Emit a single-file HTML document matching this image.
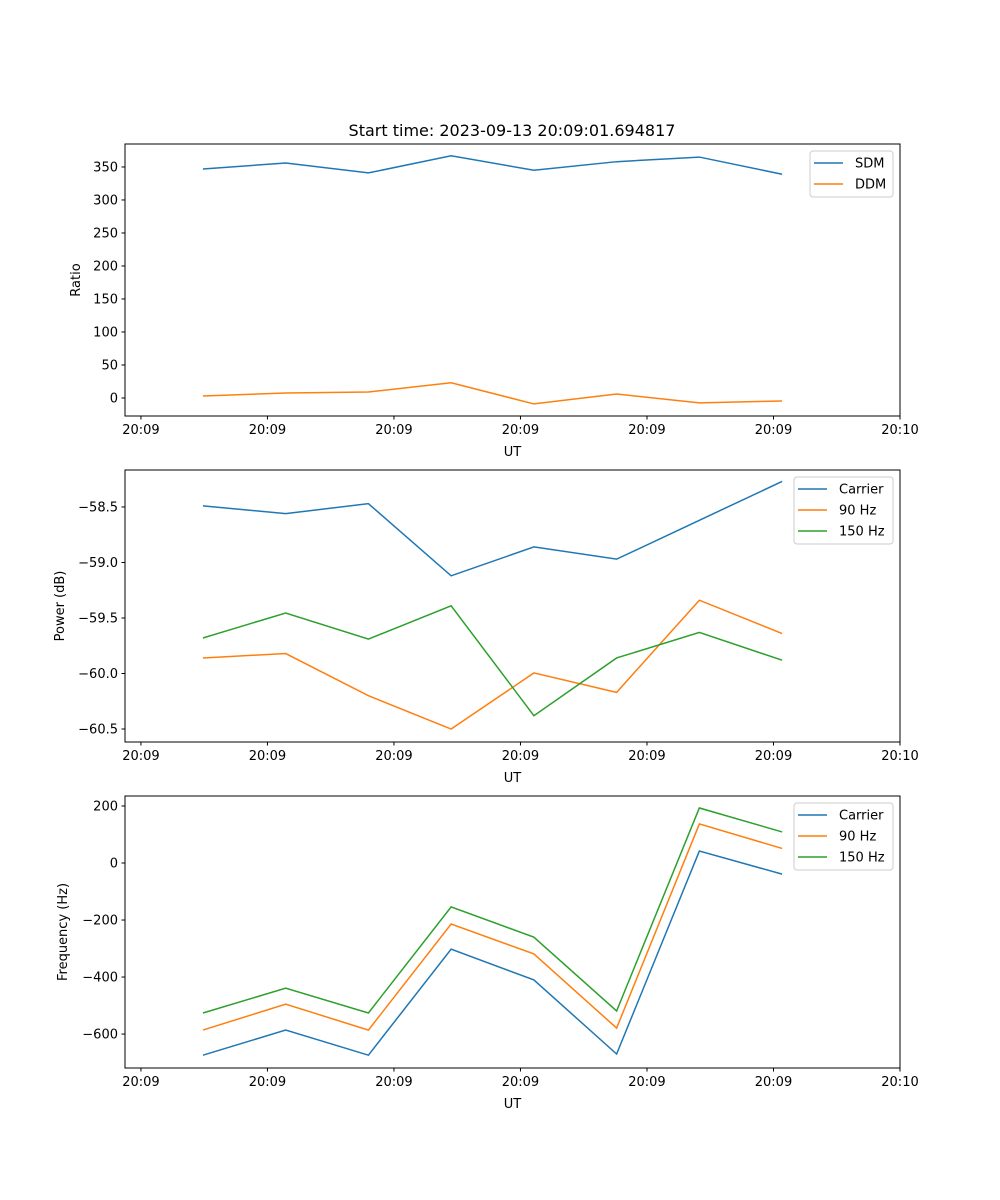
<!DOCTYPE html>
<html><head><meta charset="utf-8"><style>
body{margin:0;background:#fff}
svg{display:block;font-family:"DejaVu Sans","Liberation Sans",sans-serif}
</style></head><body>
<svg id="fig" width="1000" height="1200" xmlns="http://www.w3.org/2000/svg">
<rect width="1000" height="1200" fill="#fff"/>
<text x="512" y="136" font-size="16" text-anchor="middle">Start time: 2023-09-13 20:09:01.694817</text>
</svg>
<script>
// seconds after 20:09:00
const times = [4.9, 11.44, 17.98, 24.52, 31.06, 37.6, 44.14, 50.68];
const xTicks = [0, 10, 20, 30, 40, 50, 60];
const xTickLabels = ["20:09","20:09","20:09","20:09","20:09","20:09","20:10"];
const sdm = [347, 356, 341, 367, 345, 358, 365, 339];
const ddm = [3, 7.5, 9, 23, -9, 6, -7.5, -4.5];
const powCarrier = [-58.49, -58.56, -58.47, -59.12, -58.86, -58.97, -58.62, -58.27];
const pow90 = [-59.86, -59.82, -60.20, -60.50, -59.995, -60.17, -59.34, -59.64];
const pow150 = [-59.68, -59.455, -59.69, -59.39, -60.38, -59.86, -59.63, -59.88];
const freqCarrier = [-674, -586, -674, -302, -410, -670, 42, -39];
const freq90 = [-586, -495, -586, -214, -319, -579, 137, 51];
const freq150 = [-526, -439, -526, -154, -260, -519, 193, 109];
const ratioTicks = [0, 50, 100, 150, 200, 250, 300, 350];
const powTicks = [-60.5, -60.0, -59.5, -59.0, -58.5];
const powTickLabels = ["\u221260.5","\u221260.0","\u221259.5","\u221259.0","\u221258.5"];
const freqTicks = [-600, -400, -200, 0, 200];
const freqTickLabels = ["\u2212600","\u2212400","\u2212200","0","200"];

const NS = "http://www.w3.org/2000/svg";
const svg = document.getElementById('fig');
function mk(tag, attrs, parent){const e=document.createElementNS(NS,tag);for(const k in attrs)e.setAttribute(k,attrs[k]);(parent||svg).appendChild(e);return e;}
const L=125,R=900,xmin=-1.26,xmax=60;
const xs=v=>L+(v-xmin)/(xmax-xmin)*(R-L);
const C={blue:"#1f77b4",orange:"#ff7f0e",green:"#2ca02c"};

function panel(name,top,bot,ymin,ymax,yticks,ylabels,ytitle,series,legend){
  const g=mk('g',{});
  
  
  const ys=v=>bot-(v-ymin)/(ymax-ymin)*(bot-top);
  series.forEach(s=>{
    const p=mk('polyline',{points:times.map((t,i)=>xs(t).toFixed(2)+','+ys(s.v[i]).toFixed(2)).join(' '),fill:'none',stroke:s.c,'stroke-width':1.5},g);
    
    
  });
  const fr=mk('rect',{x:L,y:top,width:R-L,height:bot-top,fill:'none',stroke:'#000','stroke-width':1},g);
  
  
  xTicks.forEach((t,i)=>{
    const x=xs(t);
    mk('line',{x1:x,x2:x,y1:bot,y2:bot+3.5,stroke:'#000'},g);
    const tx=mk('text',{x:x,y:bot+18,'font-size':13,'text-anchor':'middle'},g);
    tx.textContent=xTickLabels[i];
    
    
  });
  const xt=mk('text',{x:(L+R)/2,y:bot+40,'font-size':13,'text-anchor':'middle'},g);
  xt.textContent='UT';
  
  
  yticks.forEach((t,i)=>{
    const y=ys(t);
    mk('line',{x1:L-3.5,x2:L,y1:y,y2:y,stroke:'#000'},g);
    const tx=mk('text',{x:L-7,y:y+4.5,'font-size':13,'text-anchor':'end'},g);
    tx.textContent=ylabels[i];
    
    
  });
  const yt=mk('text',{x:0,y:0,'font-size':13,'text-anchor':'middle',transform:`translate(${legend.yx},${(top+bot)/2}) rotate(-90)`},g);
  yt.textContent=ytitle;
  
  
  const lg=mk('g',{},g);
  
  
  const h=series.length*21+4;
  mk('rect',{x:legend.x,y:top+7,width:893-legend.x,height:h,rx:3,fill:'#fff','fill-opacity':0.8,stroke:'#ccc'},lg);
  series.forEach((s,i)=>{
    const y=top+19+i*21;
    mk('line',{x1:legend.x+4,x2:legend.x+33,y1:y,y2:y,stroke:s.c,'stroke-width':1.5},lg);
    const t=mk('text',{x:legend.x+45,y:y+4.5,'font-size':13},lg);
    t.textContent=s.k;
    
    
  });
}
panel('ratio',144,416,-27.3,384.8,ratioTicks,ratioTicks.map(String),'Ratio',
  [{k:'SDM',v:sdm,c:C.blue},{k:'DDM',v:ddm,c:C.orange}],{x:810,yx:80});
panel('power',470,742,-60.617,-58.167,powTicks,powTickLabels,'Power (dB)',
  [{k:'Carrier',v:powCarrier,c:C.blue},{k:'90 Hz',v:pow90,c:C.orange},{k:'150 Hz',v:pow150,c:C.green}],{x:794,yx:64});
panel('frequency',796,1068,-719,235,freqTicks,freqTickLabels,'Frequency (Hz)',
  [{k:'Carrier',v:freqCarrier,c:C.blue},{k:'90 Hz',v:freq90,c:C.orange},{k:'150 Hz',v:freq150,c:C.green}],{x:794,yx:67});
</script>
</body></html>
